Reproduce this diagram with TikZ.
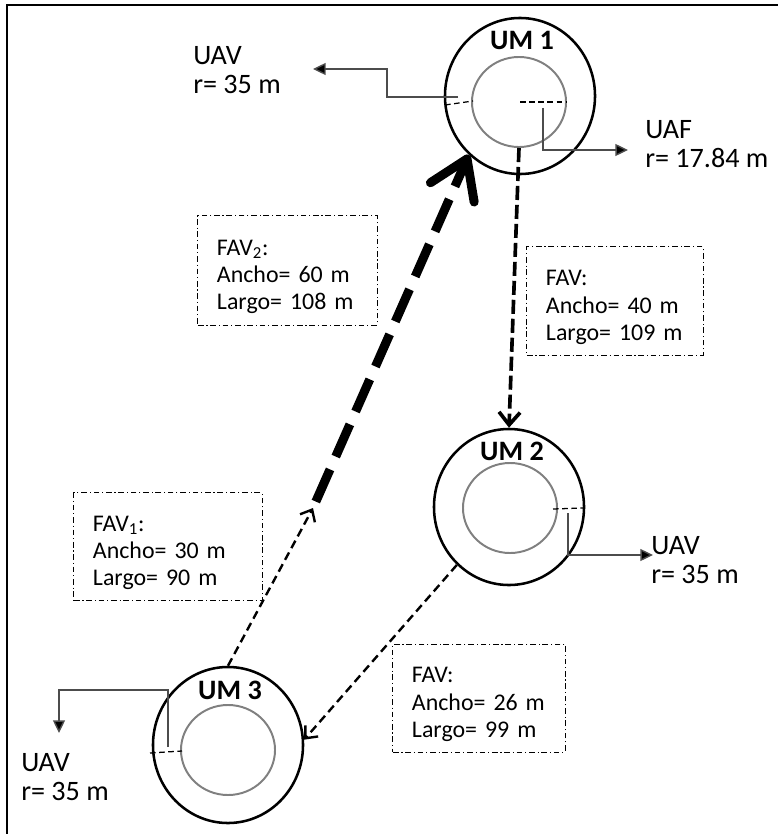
\documentclass[tikz,border=0pt]{standalone}
\usepackage{fontspec}
\setmainfont{Carlito}
\usepackage{tikz}
\usetikzlibrary{arrows.meta, shapes.geometric, positioning}
\newcommand{\favlines}[3]{\leftskip=0.375cm\rule{0pt}{20pt}#1\\#2\\#3\par}

\begin{document}
\begin{tikzpicture}[x=0.025cm, y=-0.025cm,
  um/.style={ellipse, draw, line width=1.8pt, minimum width=3.75cm, minimum height=3.9cm, inner sep=0pt},
  umin/.style={ellipse, draw=black!50, line width=1.4pt, minimum width=2.35cm, minimum height=2.25cm, inner sep=0pt},
  umtxt/.style={font=\fontsize{20}{22}\selectfont\bfseries, inner sep=0pt},
  lbl/.style={font=\fontsize{20}{21}\selectfont, align=left, anchor=west, inner sep=0pt},
  favbox/.style={draw, line width=0.7pt, dash pattern=on 4pt off 2pt on 0.8pt off 2pt,
    align=left, font=\fontsize{17}{19.5}\selectfont, inner xsep=0.1cm, inner ysep=0pt},
  lab/.style={draw=black!70, line width=1pt, -{Triangle[length=9pt,width=8.5pt,fill=black]}},
  rad/.style={line width=0.9pt, dash pattern=on 4pt off 2.5pt},
  thinarr/.style={line width=1.7pt, dash pattern=on 6pt off 3.5pt, -{Straight Barb[length=7pt,width=12pt]}},
  medarr/.style={line width=2.6pt, dash pattern=on 10pt off 3.5pt, -{Straight Barb[length=9pt,width=15pt]}},
  bigarr/.style={line width=6.4pt, dash pattern=on 25pt off 10pt,
    -{Straight Barb[length=26pt,width=34pt,line cap=round,line join=round]}}]
  \useasboundingbox (0,0) rectangle (778,834);
  % frame
  \draw[line width=1.9pt] (7,834) -- (7,5) -- (778,5);

  % --- UM 1 ---
  \node[um] (um1) at (520,96) {};
  \node[umin] (um1in) at (519,102) {};
  \node[umtxt] (um1txt) at (522,40) {UM 1};
  \draw[rad] (445,105) -- (473,101);
  \draw[rad] (520,102) -- (567,102);
  \coordinate (s1) at (458,97);
  \coordinate (t1) at (313,69);
  \coordinate (s2) at (543,108);
  \coordinate (t2) at (628,150);
  \draw[lab] (s1) -- ++(-71,0) |- (t1);
  \draw[lab] (s2) |- (t2);
  \node[lbl] (uav1) at (193,70) {UAV\\r= 35 m};
  \node[lbl] (uaf1) at (645,144) {UAF\\r= 17.84 m};

  % --- UM 2 ---
  \node[um] (um2) at (509,507) {};
  \node[umin] (um2in) at (510,508) {};
  \node[umtxt] (um2txt) at (512,451) {UM 2};
  \draw[rad] (553,509) -- (583,508);
  \coordinate (s3) at (568,513);
  \coordinate (t3) at (653,555);
  \draw[lab] (s3) |- (t3);
  \node[lbl] (uav2) at (651,560) {UAV\\r= 35 m};

  % --- UM 3 ---
  \node[um] (um3) at (228,745) {};
  \node[umin] (um3in) at (228,750) {};
  \node[umtxt] (um3txt) at (230,690) {UM 3};
  \draw[rad] (150,753) -- (182,751);
  \coordinate (s4) at (168,747);
  \coordinate (t4) at (59,733);
  \draw[lab] (s4) -- ++(0,-57) -| (t4);
  \node[lbl] (uav3) at (21,777) {UAV\\r= 35 m};

  % --- routes ---
  \coordinate (mid) at (313,508);
  \draw[thinarr] (um3.north) -- (mid);
  \draw[bigarr, shorten <=5pt] (mid) -- (um1.229);
  \draw[medarr] (um1in.south) -- (um2.north);
  \draw[thinarr] (um2.228) -- (um3.4);

  % --- widths and lengths ---
  \node[favbox, text width=4.275cm, minimum height=2.725cm] (fav2) at (287.5,270.5)
    {\favlines{FAV\textsubscript{2}:}{Ancho= 60 m}{Largo= 108 m}};
  \node[favbox, text width=4.2cm, minimum height=2.7cm] (fav12) at (615,301)
    {\favlines{FAV:}{Ancho= 40 m}{Largo= 109 m}};
  \node[favbox, text width=4.5cm, minimum height=2.675cm] (fav1) at (168,546.5)
    {\favlines{FAV\textsubscript{1}:}{Ancho= 30 m}{Largo= 90 m}};
  \node[favbox, text width=4.1cm, minimum height=2.7cm] (fav23) at (479,698)
    {\favlines{FAV:}{Ancho= 26 m}{Largo= 99 m}};
\end{tikzpicture}
\end{document}
